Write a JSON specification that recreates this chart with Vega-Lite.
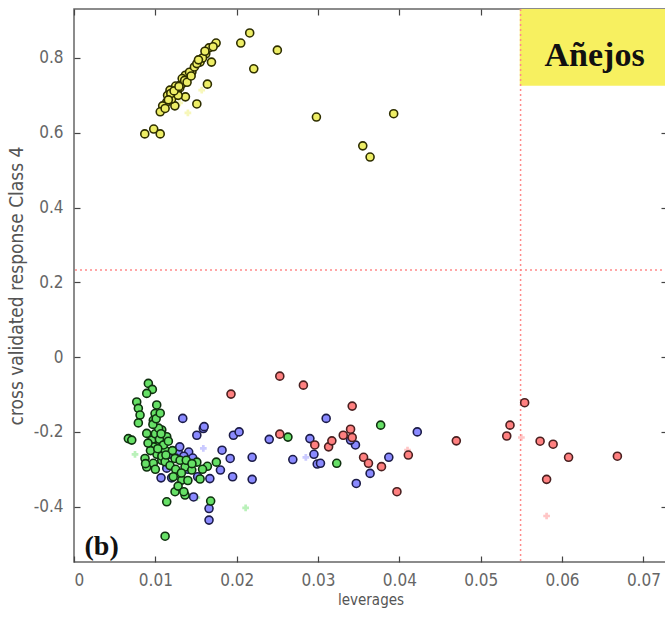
{
  "$schema": "https://vega.github.io/schema/vega-lite/v6.json",
  "width": 593,
  "height": 553,
  "autosize": {"type": "none"},
  "padding": {"left": 74, "top": 9, "right": 0, "bottom": 63},
  "background": "white",
  "config": {
    "view": {"stroke": "#666666", "strokeWidth": 1.5},
    "axis": {"grid": false, "domain": false, "tickColor": "#444444", "tickWidth": 1.2, "labelColor": "#666666", "labelFont": "Liberation Sans Narrow, DejaVu Sans Condensed, Liberation Sans", "labelFontSize": 17, "titleFont": "Liberation Sans Narrow, DejaVu Sans Condensed, Liberation Sans", "titleColor": "#555555", "titleFontWeight": "normal"}
  },
  "datasets": {
    "pts": [
      {"x": 0.01337, "y": -0.164, "g": "B"}, {"x": 0.0159, "y": -0.191, "g": "B"}, {"x": 0.0151, "y": -0.209, "g": "B"}, {"x": 0.016, "y": -0.186, "g": "B"}, {"x": 0.0196, "y": -0.209, "g": "B"}, {"x": 0.0203, "y": -0.2, "g": "B"}, {"x": 0.0182, "y": -0.249, "g": "B"}, {"x": 0.0192, "y": -0.271, "g": "B"}, {"x": 0.0219, "y": -0.268, "g": "B"}, {"x": 0.0195, "y": -0.32, "g": "B"}, {"x": 0.0219, "y": -0.327, "g": "B"}, {"x": 0.024, "y": -0.22, "g": "B"}, {"x": 0.0269, "y": -0.274, "g": "B"}, {"x": 0.029, "y": -0.218, "g": "B"}, {"x": 0.0299, "y": -0.286, "g": "B"}, {"x": 0.031, "y": -0.164, "g": "B"}, {"x": 0.0166, "y": -0.405, "g": "B"}, {"x": 0.0166, "y": -0.436, "g": "B"}, {"x": 0.018, "y": -0.302, "g": "B"}, {"x": 0.0167, "y": -0.325, "g": "B"}, {"x": 0.0147, "y": -0.374, "g": "B"}, {"x": 0.0422, "y": -0.2, "g": "B"}, {"x": 0.0346, "y": -0.235, "g": "B"}, {"x": 0.0387, "y": -0.268, "g": "B"}, {"x": 0.0364, "y": -0.311, "g": "B"}, {"x": 0.0347, "y": -0.338, "g": "B"}, {"x": 0.0303, "y": -0.284, "g": "B"}, {"x": 0.034, "y": -0.222, "g": "B"}, {"x": 0.0107, "y": -0.323, "g": "B"}, {"x": 0.012, "y": -0.323, "g": "B"}, {"x": 0.0117, "y": -0.26, "g": "B"}, {"x": 0.0128, "y": -0.254, "g": "B"}, {"x": 0.0141, "y": -0.254, "g": "B"}, {"x": 0.0114, "y": -0.297, "g": "B"}, {"x": 0.0295, "y": -0.26, "g": "B"}, {"x": 0.013, "y": -0.24, "g": "B"}, {"x": 0.0135, "y": -0.265, "g": "B"}, {"x": 0.0146, "y": -0.27, "g": "B"}, {"x": 0.0125, "y": -0.27, "g": "B"}, {"x": 0.014, "y": -0.3, "g": "B"}, {"x": 0.0152, "y": -0.32, "g": "B"}, {"x": 0.0112, "y": -0.22, "g": "B"}, {"x": 0.0108, "y": -0.21, "g": "B"},
      {"x": 0.00914, "y": -0.0704, "g": "G"}, {"x": 0.00963, "y": -0.0864, "g": "G"}, {"x": 0.00894, "y": -0.0971, "g": "G"}, {"x": 0.00771, "y": -0.12, "g": "G"}, {"x": 0.00791, "y": -0.137, "g": "G"}, {"x": 0.00812, "y": -0.155, "g": "G"}, {"x": 0.00791, "y": -0.176, "g": "G"}, {"x": 0.01017, "y": -0.128, "g": "G"}, {"x": 0.00996, "y": -0.151, "g": "G"}, {"x": 0.00975, "y": -0.169, "g": "G"}, {"x": 0.00668, "y": -0.218, "g": "G"}, {"x": 0.0071, "y": -0.222, "g": "G"}, {"x": 0.00894, "y": -0.204, "g": "G"}, {"x": 0.00956, "y": -0.222, "g": "G"}, {"x": 0.01037, "y": -0.235, "g": "G"}, {"x": 0.00873, "y": -0.271, "g": "G"}, {"x": 0.00894, "y": -0.294, "g": "G"}, {"x": 0.00975, "y": -0.284, "g": "G"}, {"x": 0.01079, "y": -0.276, "g": "G"}, {"x": 0.01119, "y": -0.249, "g": "G"}, {"x": 0.01242, "y": -0.271, "g": "G"}, {"x": 0.01304, "y": -0.276, "g": "G"}, {"x": 0.01365, "y": -0.294, "g": "G"}, {"x": 0.01448, "y": -0.302, "g": "G"}, {"x": 0.01325, "y": -0.329, "g": "G"}, {"x": 0.01242, "y": -0.36, "g": "G"}, {"x": 0.01365, "y": -0.369, "g": "G"}, {"x": 0.0114, "y": -0.387, "g": "G"}, {"x": 0.0112, "y": -0.479, "g": "G"}, {"x": 0.01079, "y": -0.195, "g": "G"}, {"x": 0.0114, "y": -0.213, "g": "G"}, {"x": 0.0168, "y": -0.385, "g": "G"}, {"x": 0.0175, "y": -0.281, "g": "G"}, {"x": 0.0164, "y": -0.292, "g": "G"}, {"x": 0.0155, "y": -0.326, "g": "G"}, {"x": 0.0151, "y": -0.281, "g": "G"}, {"x": 0.0138, "y": -0.276, "g": "G"}, {"x": 0.0263, "y": -0.214, "g": "G"}, {"x": 0.0323, "y": -0.284, "g": "G"}, {"x": 0.0377, "y": -0.182, "g": "G"}, {"x": 0.01, "y": -0.205, "g": "G"}, {"x": 0.0105, "y": -0.22, "g": "G"}, {"x": 0.011, "y": -0.235, "g": "G"}, {"x": 0.0098, "y": -0.24, "g": "G"}, {"x": 0.0102, "y": -0.26, "g": "G"}, {"x": 0.0108, "y": -0.265, "g": "G"}, {"x": 0.0094, "y": -0.25, "g": "G"}, {"x": 0.0091, "y": -0.23, "g": "G"}, {"x": 0.0104, "y": -0.19, "g": "G"}, {"x": 0.0097, "y": -0.18, "g": "G"}, {"x": 0.0101, "y": -0.165, "g": "G"}, {"x": 0.0106, "y": -0.15, "g": "G"}, {"x": 0.0112, "y": -0.28, "g": "G"}, {"x": 0.0118, "y": -0.29, "g": "G"}, {"x": 0.0125, "y": -0.3, "g": "G"}, {"x": 0.0132, "y": -0.31, "g": "G"}, {"x": 0.014, "y": -0.33, "g": "G"}, {"x": 0.0128, "y": -0.345, "g": "G"}, {"x": 0.0145, "y": -0.285, "g": "G"}, {"x": 0.0158, "y": -0.3, "g": "G"}, {"x": 0.0122, "y": -0.32, "g": "G"}, {"x": 0.01, "y": -0.3, "g": "G"}, {"x": 0.0088, "y": -0.285, "g": "G"}, {"x": 0.0135, "y": -0.36, "g": "G"}, {"x": 0.0121, "y": -0.25, "g": "G"}, {"x": 0.0116, "y": -0.225, "g": "G"}, {"x": 0.0103, "y": -0.245, "g": "G"}, {"x": 0.0107, "y": -0.205, "g": "G"}, {"x": 0.0113, "y": -0.262, "g": "G"},
      {"x": 0.0253, "y": -0.051, "g": "R"}, {"x": 0.0282, "y": -0.075, "g": "R"}, {"x": 0.0193, "y": -0.099, "g": "R"}, {"x": 0.0253, "y": -0.206, "g": "R"}, {"x": 0.0296, "y": -0.235, "g": "R"}, {"x": 0.0313, "y": -0.24, "g": "R"}, {"x": 0.0342, "y": -0.131, "g": "R"}, {"x": 0.034, "y": -0.193, "g": "R"}, {"x": 0.0331, "y": -0.209, "g": "R"}, {"x": 0.0317, "y": -0.224, "g": "R"}, {"x": 0.0342, "y": -0.215, "g": "R"}, {"x": 0.0356, "y": -0.268, "g": "R"}, {"x": 0.0362, "y": -0.284, "g": "R"}, {"x": 0.0378, "y": -0.293, "g": "R"}, {"x": 0.0411, "y": -0.262, "g": "R"}, {"x": 0.0397, "y": -0.36, "g": "R"}, {"x": 0.047, "y": -0.224, "g": "R"}, {"x": 0.0554, "y": -0.122, "g": "R"}, {"x": 0.0536, "y": -0.182, "g": "R"}, {"x": 0.0532, "y": -0.211, "g": "R"}, {"x": 0.0573, "y": -0.225, "g": "R"}, {"x": 0.0589, "y": -0.233, "g": "R"}, {"x": 0.0608, "y": -0.268, "g": "R"}, {"x": 0.0581, "y": -0.327, "g": "R"}, {"x": 0.0668, "y": -0.265, "g": "R"},
      {"x": 0.01747, "y": 0.84, "g": "Y"}, {"x": 0.0166, "y": 0.827, "g": "Y"}, {"x": 0.0162, "y": 0.811, "g": "Y"}, {"x": 0.0169, "y": 0.789, "g": "Y"}, {"x": 0.0155, "y": 0.789, "g": "Y"}, {"x": 0.0164, "y": 0.73, "g": "Y"}, {"x": 0.0151, "y": 0.677, "g": "Y"}, {"x": 0.0145, "y": 0.763, "g": "Y"}, {"x": 0.014, "y": 0.749, "g": "Y"}, {"x": 0.0134, "y": 0.733, "g": "Y"}, {"x": 0.013, "y": 0.72, "g": "Y"}, {"x": 0.0127, "y": 0.709, "g": "Y"}, {"x": 0.0122, "y": 0.701, "g": "Y"}, {"x": 0.0118, "y": 0.693, "g": "Y"}, {"x": 0.0114, "y": 0.682, "g": "Y"}, {"x": 0.0109, "y": 0.672, "g": "Y"}, {"x": 0.0106, "y": 0.656, "g": "Y"}, {"x": 0.0137, "y": 0.696, "g": "Y"}, {"x": 0.0124, "y": 0.672, "g": "Y"}, {"x": 0.0087, "y": 0.597, "g": "Y"}, {"x": 0.0098, "y": 0.61, "g": "Y"}, {"x": 0.0106, "y": 0.597, "g": "Y"}, {"x": 0.0205, "y": 0.84, "g": "Y"}, {"x": 0.0118, "y": 0.714, "g": "Y"}, {"x": 0.0137, "y": 0.754, "g": "Y"}, {"x": 0.012, "y": 0.69, "g": "Y"}, {"x": 0.0126, "y": 0.715, "g": "Y"}, {"x": 0.0131, "y": 0.728, "g": "Y"}, {"x": 0.0115, "y": 0.7, "g": "Y"}, {"x": 0.0128, "y": 0.7, "g": "Y"}, {"x": 0.0133, "y": 0.745, "g": "Y"}, {"x": 0.0142, "y": 0.762, "g": "Y"}, {"x": 0.0148, "y": 0.776, "g": "Y"}, {"x": 0.0151, "y": 0.785, "g": "Y"}, {"x": 0.0158, "y": 0.8, "g": "Y"}, {"x": 0.0161, "y": 0.818, "g": "Y"}, {"x": 0.0171, "y": 0.83, "g": "Y"}, {"x": 0.0112, "y": 0.665, "g": "Y"}, {"x": 0.0125, "y": 0.725, "g": "Y"}, {"x": 0.0119, "y": 0.705, "g": "Y"}, {"x": 0.0123, "y": 0.712, "g": "Y"}, {"x": 0.0129, "y": 0.724, "g": "Y"}, {"x": 0.0136, "y": 0.74, "g": "Y"}, {"x": 0.0139, "y": 0.735, "g": "Y"}, {"x": 0.0116, "y": 0.688, "g": "Y"}, {"x": 0.0144, "y": 0.752, "g": "Y"}, {"x": 0.0153, "y": 0.795, "g": "Y"}, {"x": 0.0216, "y": 0.867, "g": "Y"}, {"x": 0.025, "y": 0.821, "g": "Y"}, {"x": 0.0221, "y": 0.771, "g": "Y"}, {"x": 0.0298, "y": 0.642, "g": "Y"}, {"x": 0.0393, "y": 0.651, "g": "Y"}, {"x": 0.0355, "y": 0.565, "g": "Y"}, {"x": 0.0364, "y": 0.535, "g": "Y"}
    ],
    "faint": [
      {"x": 0.014, "y": 0.653, "g": "Y"}, {"x": 0.0157, "y": 0.714, "g": "Y"}, {"x": 0.013, "y": 0.68, "g": "Y"},
      {"x": 0.0159, "y": -0.244, "g": "B"}, {"x": 0.0285, "y": -0.268, "g": "B"}, {"x": 0.0133, "y": -0.31, "g": "B"},
      {"x": 0.0075, "y": -0.26, "g": "G"}, {"x": 0.0211, "y": -0.403, "g": "G"}, {"x": 0.0151, "y": -0.376, "g": "G"},
      {"x": 0.055, "y": -0.215, "g": "R"}, {"x": 0.0581, "y": -0.425, "g": "R"}, {"x": 0.041, "y": -0.249, "g": "R"}
    ],
    "box": [{"x1": 0.0548, "x2": 0.08, "y1": 0.726, "y2": 1.0}],
    "vline": [{"x": 0.0549}],
    "hline": [{"y": 0.233}],
    "labels": [
      {"x": 0.064, "y": 0.806, "t": "Añejos", "s": "big"},
      {"x": 0.0034, "y": -0.508, "t": "(b)", "s": "small"}
    ],
    "frame": [{"x": 0.0, "y": 0.0}]
  },
  "resolve": {"axis": {"x": "independent", "y": "independent"}},
  "layer": [
    {
      "data": {"name": "box"},
      "mark": {"type": "rect", "color": "#f7f060", "clip": true},
      "encoding": {
        "x": {"field": "x1", "type": "quantitative", "scale": {"domain": [0, 0.0729], "nice": false, "zero": false}, "axis": null},
        "x2": {"field": "x2"},
        "y": {"field": "y1", "type": "quantitative", "scale": {"domain": [-0.548, 0.931], "nice": false, "zero": false}, "axis": null},
        "y2": {"field": "y2"}
      }
    },
    {
      "data": {"name": "vline"},
      "mark": {"type": "rule", "color": "#ff8a8a", "strokeDash": [2, 3], "strokeWidth": 1.5},
      "encoding": {"x": {"field": "x", "type": "quantitative", "axis": null}}
    },
    {
      "data": {"name": "hline"},
      "mark": {"type": "rule", "color": "#ff8a8a", "strokeDash": [2, 3], "strokeWidth": 1.5},
      "encoding": {"y": {"field": "y", "type": "quantitative", "axis": null}}
    },
    {
      "data": {"name": "frame"},
      "mark": {"type": "point", "opacity": 0},
      "encoding": {
        "x": {"field": "x", "type": "quantitative", "axis": {"orient": "top", "values": [0, 0.01, 0.02, 0.03, 0.04, 0.05, 0.06, 0.07], "labels": false, "tickSize": 6, "offset": -6, "title": null}},
        "y": {"field": "y", "type": "quantitative", "axis": {"orient": "right", "values": [-0.4, -0.2, 0, 0.2, 0.4, 0.6, 0.8], "labels": false, "tickSize": 6, "offset": -6, "title": null}}
      }
    },
    {
      "data": {"name": "faint"},
      "mark": {"type": "point", "shape": "cross", "filled": true, "size": 45, "opacity": 0.45},
      "encoding": {
        "x": {"field": "x", "type": "quantitative", "axis": null},
        "y": {"field": "y", "type": "quantitative", "axis": null},
        "fill": {"field": "g", "type": "nominal", "scale": {"domain": ["B", "G", "R", "Y"], "range": ["#8a8aff", "#66e066", "#ff8080", "#eeee66"]}, "legend": null}
      }
    },
    {
      "data": {"name": "pts"},
      "mark": {"type": "point", "shape": "circle", "filled": true, "size": 64, "strokeWidth": 1.6, "opacity": 1},
      "encoding": {
        "x": {"field": "x", "type": "quantitative", "axis": {"orient": "bottom", "values": [0, 0.01, 0.02, 0.03, 0.04, 0.05, 0.06, 0.07], "labelExpr": "datum.value == 0 ? '0' : replace(format(datum.value, '.2f'), '−', '-')", "tickSize": 6, "offset": -6, "labelPadding": 10, "title": "leverages", "titleFontSize": 15, "titlePadding": 4}},
        "y": {"field": "y", "type": "quantitative", "axis": {"orient": "left", "values": [-0.4, -0.2, 0, 0.2, 0.4, 0.6, 0.8], "labelExpr": "datum.value == 0 ? '0' : replace(format(datum.value, '.1f'), '−', '-')", "tickSize": 6, "offset": -6, "labelPadding": 11, "title": "cross validated response Class 4", "titleFontSize": 19, "titlePadding": 7}},
        "fill": {"field": "g", "type": "nominal", "scale": {"domain": ["B", "G", "R", "Y"], "range": ["#5656c4", "#48c048", "#cc6666", "#c8c85a"]}, "legend": null},
        "stroke": {"field": "g", "type": "nominal", "scale": {"domain": ["B", "G", "R", "Y"], "range": ["#1c1c48", "#0f300f", "#4a2020", "#2e2e00"]}, "legend": null}
      }
    },
    {
      "data": {"name": "labels"},
      "mark": {"type": "text", "font": "Liberation Serif", "fontWeight": "bold", "color": "#111111", "align": "center", "baseline": "middle"},
      "encoding": {
        "x": {"field": "x", "type": "quantitative", "axis": null},
        "y": {"field": "y", "type": "quantitative", "axis": null},
        "text": {"field": "t"},
        "size": {"field": "s", "type": "nominal", "scale": {"domain": ["big", "small"], "range": [34, 28]}, "legend": null}
      }
    }
  ]
}
